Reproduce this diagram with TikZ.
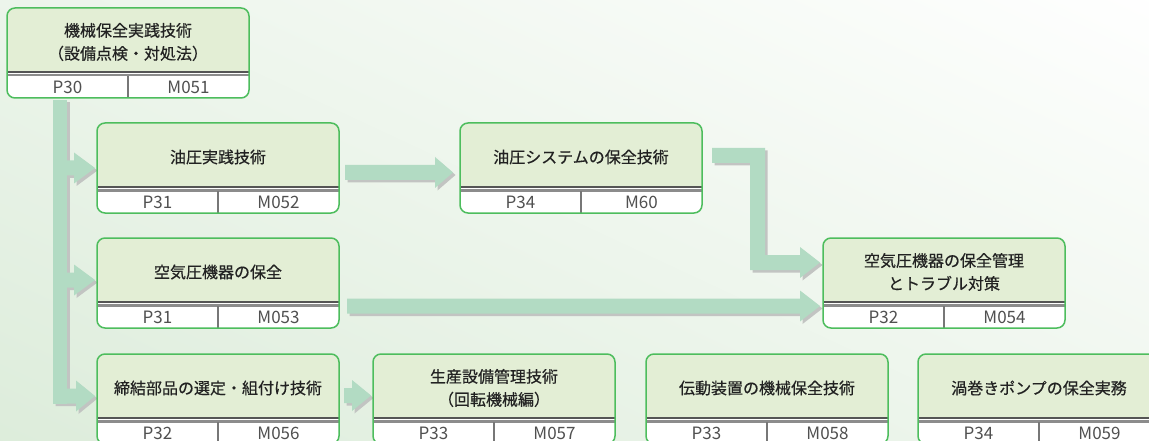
\documentclass[tikz,border=0pt]{standalone}
\usepackage{fontspec}
\setmainfont{Noto Sans CJK JP}
\newfontfamily\titlefont{Noto Sans CJK JP}[FakeBold=0.5]
\definecolor{bggreen}{HTML}{DCECDA}
\definecolor{arrowgreen}{HTML}{B2DBC3}
\definecolor{shadowgrey}{HTML}{C2C4C2}
\definecolor{boxgreen}{HTML}{4DBD5D}
\definecolor{hdrfill}{HTML}{E3EED5}
\definecolor{sepdark}{HTML}{555555}
\definecolor{seplight}{HTML}{8C8C8C}
\definecolor{divgrey}{HTML}{777777}
\definecolor{txt}{HTML}{222222}
\definecolor{numtxt}{HTML}{505050}
\tikzset{
  boxline/.style={draw=boxgreen, line width=1.5pt, rounded corners=8pt},
  titletext/.style={text=txt, align=center, font=\titlefont\fontsize{16}{23}\selectfont, inner sep=0pt},
  numtext/.style={text=numtxt, font=\fontsize{17}{18}\selectfont, inner sep=0pt},
  arrowfill/.style={fill=arrowgreen},
  arrowshadow/.style={fill=shadowgrey},
}
\newcommand\kbox[6]{%
  \begin{scope}
    \clip[rounded corners=8pt] (#2,#3) rectangle ++(242,90);
    \fill[white] (#2,#3) rectangle ++(242,90);
    \fill[hdrfill] (#2,#3) rectangle ++(242,63);
    \fill[sepdark] (#2,#3+63) rectangle ++(242,1.6);
    \fill[seplight] (#2,#3+66.3) rectangle ++(242,2.2);
    \draw[divgrey, line width=1.4pt] (#2+121,#3+68) -- ++(0,24);
  \end{scope}
  \draw[boxline] (#2,#3) rectangle ++(242,90);
  \node[titletext] (#1) at (#2+121,#3+34) {#4};
  \node[numtext] (#1p) at (#2+60.5,#3+79.5) {#5};
  \node[numtext] (#1m) at (#2+181.5,#3+79.5) {#6};
}
% right-pointing block arrow: shaft start, head start, tip, centre y
\newcommand\rarr[5]{%
  \fill[#5] (#1,#4-7.5) -- (#2,#4-7.5) -- (#2,#4-15.5) -- (#3,#4) -- (#2,#4+15.5) -- (#2,#4+7.5) -- (#1,#4+7.5) -- cycle;
}
\newcommand\arrowset[1]{%
  \fill[#1] (53,100) rectangle (67,403.5);
  \rarr{60}{74}{95}{168}{#1}
  \rarr{60}{74}{95}{280}{#1}
  \rarr{53}{76}{95}{396}{#1}
  \rarr{345}{435}{453}{172.5}{#1}
  \rarr{347}{800}{820}{306}{#1}
  \rarr{344}{352}{371}{395.5}{#1}
  \fill[#1] (712,148) -- (765,148) -- (765,255) -- (800,255) -- (800,247) -- (820,262.5)
        -- (800,278) -- (800,270) -- (750,270) -- (750,163) -- (712,163) -- cycle;
}
\begin{document}
\begin{tikzpicture}[x=1pt,y=-1pt]
  \clip (0,0) rectangle (1149,441);
  \shade[top color=white, bottom color=bggreen, shading angle=-25] (-200,-100) rectangle (1349,541);
  % arrows: shadow then fill
  \begin{scope}[shift={(2.5,2.5)}]
    \arrowset{arrowshadow}
  \end{scope}
  \arrowset{arrowfill}
  % boxes
  \kbox{b1}{7}{8}{機械保全実践技術\\（設備点検・対処法）}{P30}{M051}
  \kbox{b2}{97}{123}{油圧実践技術}{P31}{M052}
  \kbox{b3}{460}{123}{油圧システムの保全技術}{P34}{M60}
  \kbox{b4}{97}{238}{空気圧機器の保全}{P31}{M053}
  \kbox{b5}{823}{238}{空気圧機器の保全管理\\とトラブル対策}{P32}{M054}
  \kbox{b6}{97}{354}{締結部品の選定・組付け技術}{P32}{M056}
  \kbox{b7}{373}{354}{生産設備管理技術\\（回転機械編）}{P33}{M057}
  \kbox{b8}{646}{354}{伝動装置の機械保全技術}{P33}{M058}
  \kbox{b9}{918}{354}{渦巻きポンプの保全実務}{P34}{M059}
\end{tikzpicture}
\end{document}
